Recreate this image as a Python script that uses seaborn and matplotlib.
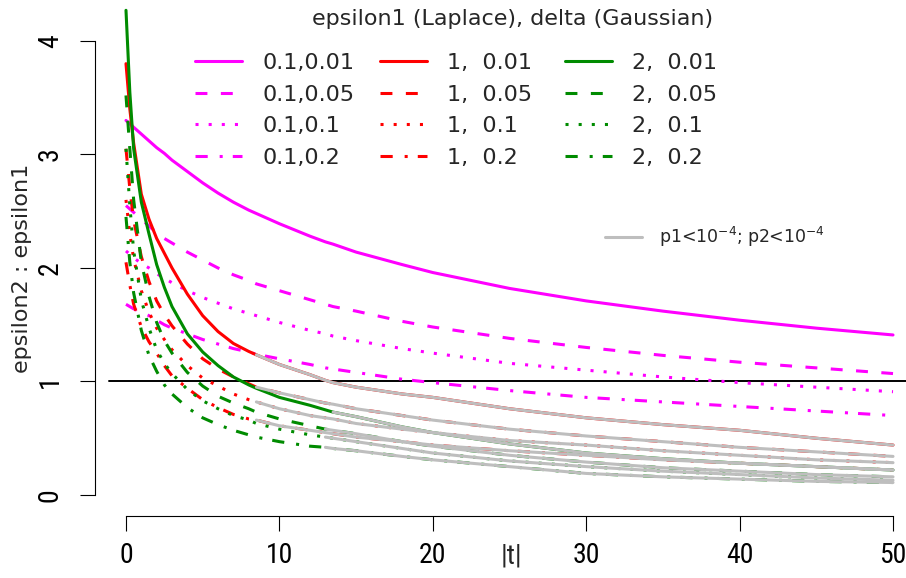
import sys
import numpy as np
import pandas as pd
import matplotlib
matplotlib.use("Agg")
import matplotlib.pyplot as plt
import seaborn as sns
from matplotlib import font_manager as fm
from matplotlib.lines import Line2D

# ---------------- data ----------------
T = [0, 0.25, 0.5, 1, 1.5, 2, 2.5, 3, 4, 5, 6, 7, 8, 8.5, 10, 12, 13, 13.5,
     15, 18, 20, 25, 30, 35, 40, 45, 50]

# epsilon1 = 0.1 (magenta)
M_001 = [3.30, 3.27, 3.24, 3.18, 3.12, 3.06, 3.01, 2.95, 2.85, 2.75, 2.66, 2.58, 2.51, 2.48,
         2.39, 2.28, 2.23, 2.21, 2.14, 2.03, 1.96, 1.82, 1.71, 1.62, 1.54, 1.47, 1.41]
M_005 = [2.55, 2.52, 2.49, 2.43, 2.37, 2.31, 2.26, 2.22, 2.14, 2.07, 2.00, 1.94, 1.89, 1.86,
         1.80, 1.72, 1.68, 1.66, 1.62, 1.53, 1.48, 1.38, 1.30, 1.23, 1.17, 1.12, 1.07]
M_010 = [2.15, 2.12, 2.09, 2.04, 2.00, 1.95, 1.91, 1.87, 1.80, 1.74, 1.69, 1.64, 1.60, 1.58,
         1.52, 1.45, 1.42, 1.40, 1.36, 1.29, 1.25, 1.16, 1.10, 1.04, 0.99, 0.95, 0.91]
M_020 = [1.68, 1.66, 1.64, 1.61, 1.58, 1.54, 1.50, 1.47, 1.42, 1.37, 1.33, 1.29, 1.26, 1.24,
         1.20, 1.15, 1.12, 1.11, 1.08, 1.02, 0.99, 0.92, 0.86, 0.82, 0.78, 0.74, 0.70]
# epsilon1 = 1 (red)
R_001 = [3.80, 3.40, 3.10, 2.65, 2.43, 2.26, 2.13, 2.00, 1.77, 1.58, 1.44, 1.335, 1.265, 1.235,
         1.15, 1.06, 1.01, 0.99, 0.95, 0.89, 0.86, 0.76, 0.68, 0.62, 0.57, 0.50, 0.44]
R_005 = [3.05, 2.70, 2.42, 2.10, 1.88, 1.71, 1.59, 1.49, 1.33, 1.20, 1.11, 1.04, 0.98, 0.95,
         0.90, 0.84, 0.81, 0.80, 0.76, 0.70, 0.66, 0.58, 0.52, 0.47, 0.42, 0.38, 0.34]
R_010 = [2.60, 2.30, 2.08, 1.80, 1.61, 1.47, 1.37, 1.28, 1.14, 1.03, 0.96, 0.89, 0.84, 0.82,
         0.76, 0.70, 0.68, 0.67, 0.63, 0.58, 0.55, 0.48, 0.44, 0.39, 0.35, 0.31, 0.285]
R_020 = [2.05, 1.85, 1.68, 1.48, 1.35, 1.25, 1.14, 1.05, 0.94, 0.84, 0.77, 0.71, 0.67, 0.66,
         0.61, 0.57, 0.55, 0.54, 0.51, 0.47, 0.44, 0.39, 0.35, 0.31, 0.28, 0.25, 0.22]
# epsilon1 = 2 (green)
G_001 = [4.27, 3.55, 3.05, 2.58, 2.30, 2.03, 1.83, 1.66, 1.42, 1.26, 1.14, 1.04, 0.97, 0.94,
         0.86, 0.79, 0.75, 0.73, 0.69, 0.60, 0.55, 0.45, 0.37, 0.32, 0.28, 0.25, 0.22]
G_005 = [3.52, 3.05, 2.60, 2.05, 1.75, 1.52, 1.36, 1.25, 1.08, 0.96, 0.87, 0.81, 0.76, 0.73,
         0.67, 0.61, 0.58, 0.57, 0.54, 0.47, 0.43, 0.35, 0.29, 0.24, 0.21, 0.18, 0.16]
G_010 = [3.05, 2.55, 2.15, 1.72, 1.47, 1.28, 1.16, 1.07, 0.93, 0.83, 0.76, 0.70, 0.66, 0.63,
         0.58, 0.53, 0.51, 0.50, 0.47, 0.41, 0.37, 0.30, 0.25, 0.21, 0.18, 0.15, 0.13]
G_020 = [2.45, 2.05, 1.78, 1.45, 1.23, 1.09, 0.97, 0.89, 0.77, 0.68, 0.62, 0.57, 0.53, 0.51,
         0.47, 0.43, 0.42, 0.41, 0.39, 0.34, 0.31, 0.25, 0.19, 0.16, 0.14, 0.12, 0.11]

# |t| from which p1<1e-4 and p2<1e-4 (grey overlay); None = never
GREY_FROM_M = [None, None, None, None]
GREY_FROM_R = [8.5, 8.5, 8.5, 8.5]
GREY_FROM_G = [13.5, 13, 13, 13]

LABELS_M = ["0.1,0.01", "0.1,0.05", "0.1,0.1", "0.1,0.2"]
LABELS_R = ["1,  0.01", "1,  0.05", "1,  0.1", "1,  0.2"]
LABELS_G = ["2,  0.01", "2,  0.05", "2,  0.1", "2,  0.2"]
LEGEND_TITLE = "epsilon1 (Laplace), delta (Gaussian)"
GREY_LABEL = r"p1<10$^{-4}$; p2<10$^{-4}$"
XTICKS = [0, 10, 20, 30, 40, 50]
XTICK_LABELS = ["0", "10", "20", "30", "40", "50"]
YTICKS = [0, 1, 2, 3, 4]
YTICK_LABELS = ["0", "1", "2", "3", "4"]
XLABEL = "|t|"
YLABEL = "epsilon2 : epsilon1"

# ---------------- style ----------------
sns.set_style("white")
plt.rcParams["font.family"] = ["DejaVu Sans"]
plt.rcParams["mathtext.fontset"] = "dejavusans"


def pick_narrow_font():
    names = {f.name for f in fm.fontManager.ttflist}
    for nm in ["Liberation Sans Narrow", "Roboto Condensed", "Open Sans Condensed"]:
        if nm in names:
            return {"fontfamily": nm}, nm
    for f in fm.fontManager.ttflist:
        if f.name == "DejaVu Sans" and "Condensed" in f.fname and "Bold" not in f.fname \
                and "Oblique" not in f.fname:
            return {"fontfamily": "DejaVu Sans", "fontstretch": "condensed"}, "DejaVu Sans Condensed"
    return {"fontfamily": "Liberation Sans"}, "Liberation Sans"


TICK_FONT, TICK_NAME = pick_narrow_font()
TICK_SIZE = {"Liberation Sans Narrow": 22, "Roboto Condensed": 20,
             "Open Sans Condensed": 20, "DejaVu Sans Condensed": 19}.get(TICK_NAME, 19)
print("tick font:", TICK_NAME, file=sys.stderr)

W, H = 906, 578
fig = plt.figure(figsize=(W / 100, H / 100), dpi=100)
ax = fig.add_axes([95 / W, (H - 516) / H, (924 - 95) / W, 516 / H])
ax.set_xlim(-2.02, 52.02)
ax.set_ylim(-0.185, 4.361)

LW = 2.2
DASHED = (0, (3.9, 4.4))
DOTTED = (0, (1.0, 3.3))
DOTDASH = (0, (4.0, 3.9, 1.0, 3.3))
STYLES = ["-", DASHED, DOTTED, DOTDASH]
GREY = "#BEBEBE"

t_arr = np.array(T, dtype=float)
families = [
    ([M_001, M_005, M_010, M_020], "#FF00FF", GREY_FROM_M, LABELS_M),
    ([R_001, R_005, R_010, R_020], "#FF0000", GREY_FROM_R, LABELS_R),
    ([G_001, G_005, G_010, G_020], "#008B00", GREY_FROM_G, LABELS_G),
]

ax.axhline(1, xmin=(109 - 95) / 829, xmax=1, color="black", lw=1.4, zorder=1)

for series, color, grey_from, _ in families:
    for vals, ls, thr in zip(series, STYLES, grey_from):
        df = pd.DataFrame({"t": t_arr, "r": np.array(vals, dtype=float)})
        sns.lineplot(data=df, x="t", y="r", ax=ax, color=color, linestyle=ls,
                     lw=LW, errorbar=None, legend=False, sort=False, zorder=3)
        if thr is not None:
            dg = df[df["t"] >= thr]
            sns.lineplot(data=dg, x="t", y="r", ax=ax, color=GREY, linestyle="-",
                         lw=LW, errorbar=None, legend=False, sort=False, zorder=4)

# axes look (R base style)
for s in ["top", "right"]:
    ax.spines[s].set_visible(False)
for s in ["left", "bottom"]:
    ax.spines[s].set_visible(True)
    ax.spines[s].set_color("black")
    ax.spines[s].set_linewidth(0.8)
ax.spines["left"].set_bounds(0, 4)
ax.spines["bottom"].set_bounds(0, 50)
ax.grid(False)

ax.set_xticks(XTICKS)
ax.set_xticklabels(XTICK_LABELS, fontsize=TICK_SIZE, **TICK_FONT)
ax.set_yticks(YTICKS)
ax.set_yticklabels(YTICK_LABELS, fontsize=TICK_SIZE, rotation=90, va="center", **TICK_FONT)
ax.tick_params(axis="both", direction="out", length=10.5, width=0.8,
               color="black", labelcolor="black", bottom=True, left=True)
ax.tick_params(axis="x", pad=8)
ax.tick_params(axis="y", pad=12)

ax.set_xlabel(XLABEL, fontsize=TICK_SIZE, va="center", **TICK_FONT)
ax.xaxis.set_label_coords((511 - 95) / 829, (516 - 556) / 516)
ax.set_ylabel(YLABEL, fontsize=16, va="center", ha="center")
ax.yaxis.set_label_coords((22 - 95) / 829, (516 - 268) / 516)

# legend title and three legend columns
fig.text(513 / W, 1 - 25 / H, LEGEND_TITLE, ha="center", va="baseline", fontsize=16)
col_x = [195, 380, 565]
for (series, color, _, labels), x0 in zip(families, col_x):
    handles = [Line2D([], [], color=color, lw=LW, linestyle=ls) for ls in STYLES]
    fig.legend(handles, labels, loc="upper left", bbox_to_anchor=(x0 / W, 1 - 53 / H),
               frameon=False, fontsize=16, handlelength=2.12, handletextpad=0.9,
               labelspacing=0.52, borderpad=0, borderaxespad=0)

fig.legend([Line2D([], [], color=GREY, lw=LW)], [GREY_LABEL], loc="center left",
           bbox_to_anchor=(605 / W, 1 - 237 / H), frameon=False, fontsize=12.5,
           handlelength=2.13, handletextpad=1.0, borderpad=0, borderaxespad=0)

fig.savefig("out.png", dpi=100)
